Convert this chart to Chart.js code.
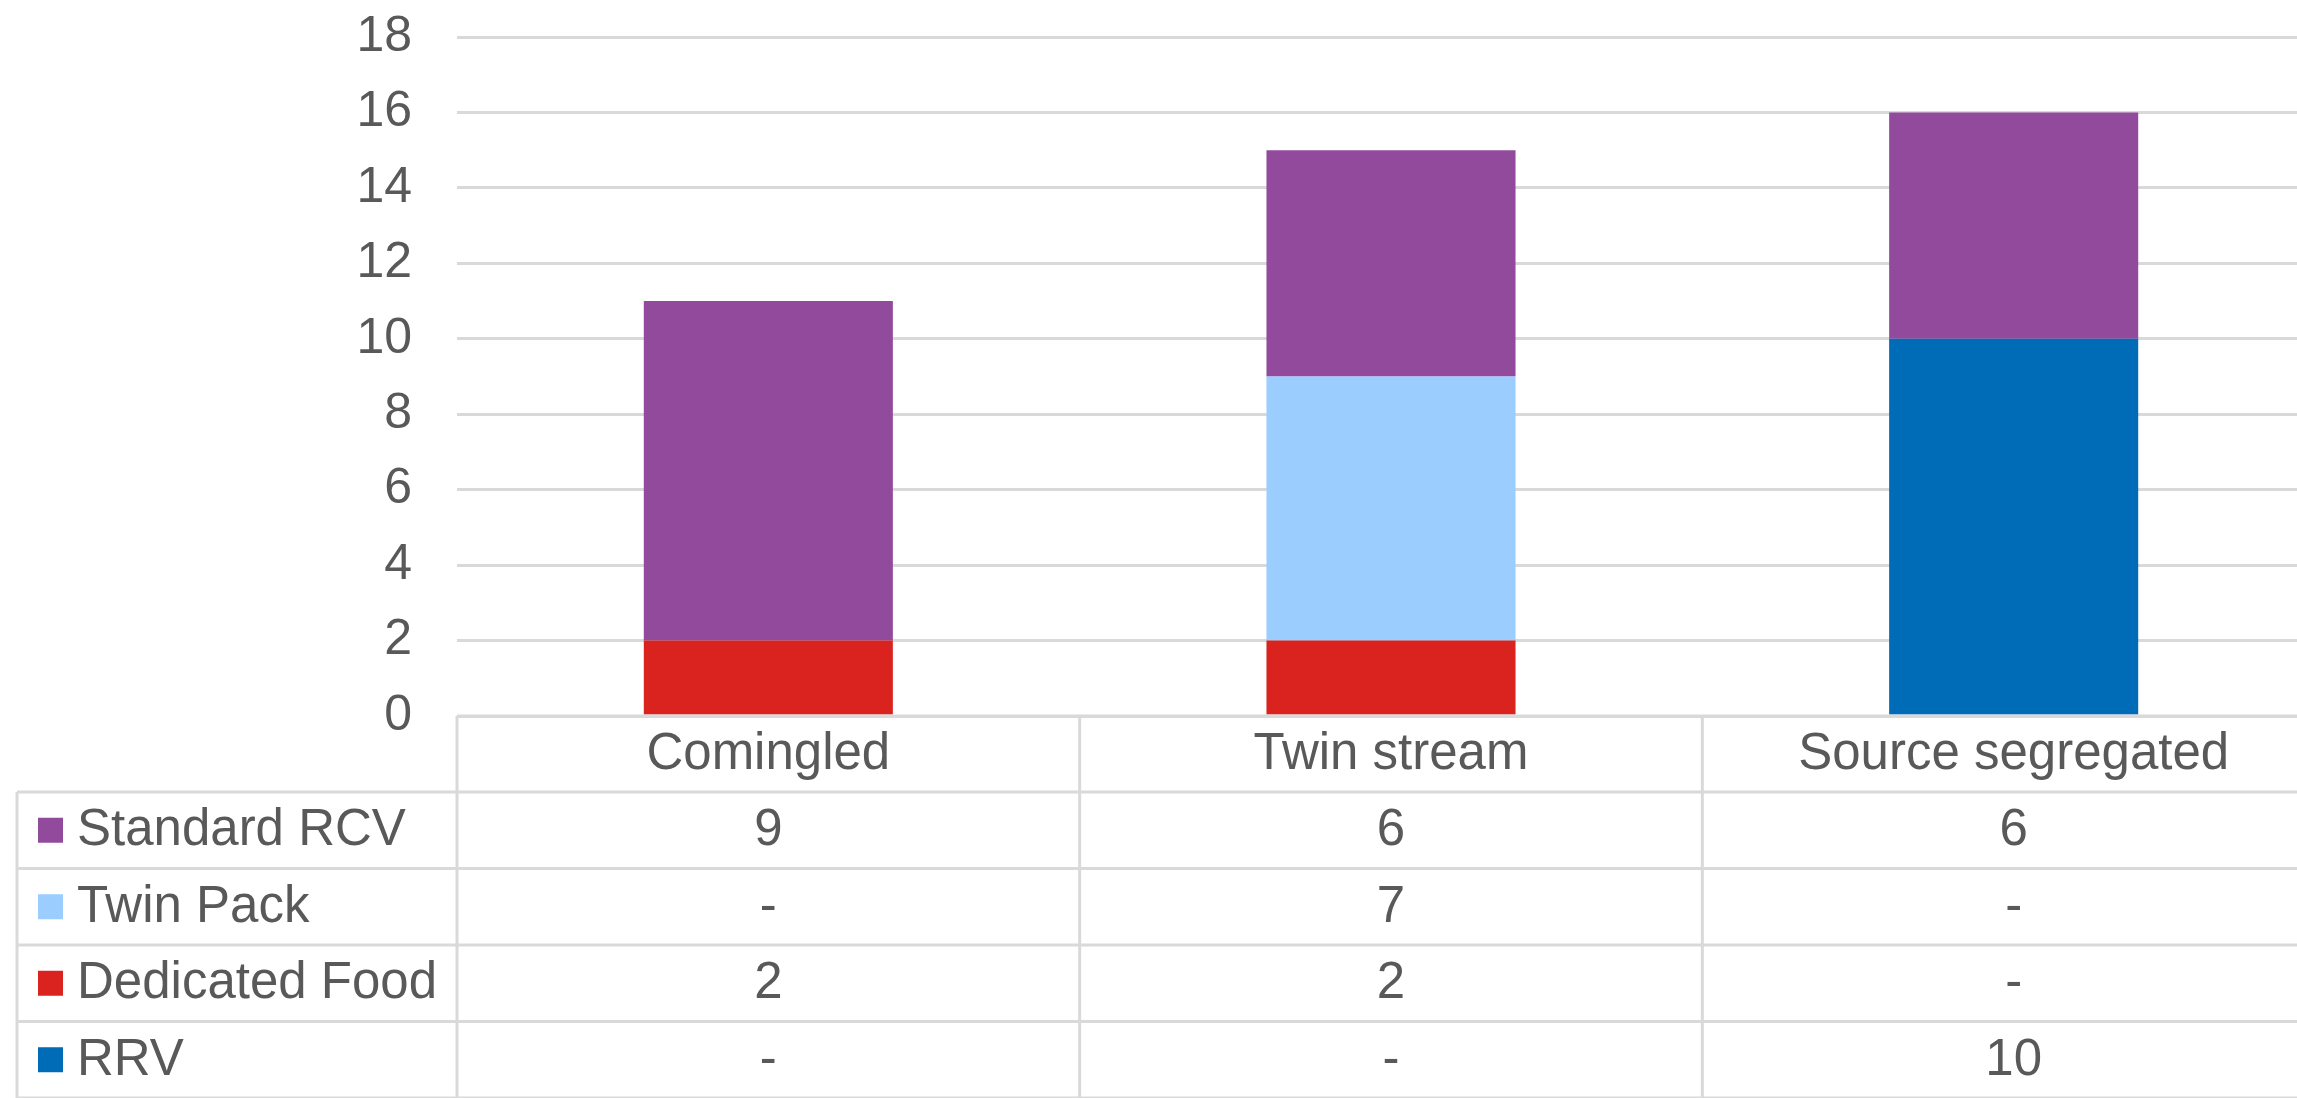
<!DOCTYPE html>
<html>
<head>
<meta charset="utf-8">
<script src="https://cdn.jsdelivr.net/npm/chart.js@4/dist/chart.umd.min.js"></script>
<style>
  html, body { margin: 0; padding: 0; background: #fff; overflow: hidden; }
  #wrap { width: 2325px; height: 1098px; }
</style>
</head>
<body>
<div id="wrap"><canvas id="chart" width="2325" height="1098"></canvas></div>
<script>
const categories = ['Comingled', 'Twin stream', 'Source segregated'];

// stacking order bottom -> top
const rrv = [null, null, 10];
const dedicatedFood = [2, 2, null];
const twinPack = [null, 7, null];
const standardRcv = [9, 6, 6];

const yTicks = [0, 2, 4, 6, 8, 10, 12, 14, 16, 18];

const FONT = '"Liberation Sans", Arial, sans-serif';
const TEXT = '#595959';
const LINE = '#D9D9D9';

// data table under the plot, rows drawn top to bottom
const tablePlugin = {
    id: 'dataTable',
    afterDraw(chart) {
        const c = chart.ctx;
        const x = chart.scales.x;
        const area = chart.chartArea;
        const top = area.bottom;
        const headerH = 76;
        const rowH = 76.5;
        const colW = x.getPixelForValue(1) - x.getPixelForValue(0);
        const tableLeft = 17;
        const rows = chart.data.datasets.slice().reverse();

        c.save();
        c.strokeStyle = LINE;
        c.lineWidth = 3;

        // horizontal lines
        c.beginPath();
        c.moveTo(area.left, top);
        c.lineTo(area.right, top);
        for (let i = 0; i <= rows.length; i++) {
            const y = top + headerH + i * rowH;
            c.moveTo(tableLeft, y);
            c.lineTo(area.right, y);
        }
        // vertical lines
        c.moveTo(tableLeft, top + headerH);
        c.lineTo(tableLeft, chart.height);
        for (let i = 0; i <= categories.length; i++) {
            const vx = x.getPixelForValue(0) - colW / 2 + i * colW;
            c.moveTo(vx, top);
            c.lineTo(vx, chart.height);
        }
        c.stroke();

        c.fillStyle = TEXT;
        c.font = '51px ' + FONT;
        c.textBaseline = 'middle';
        c.textAlign = 'center';

        // header
        categories.forEach((cat, i) => {
            c.fillText(cat, x.getPixelForValue(i), top + headerH / 2 + 1);
        });

        // rows
        rows.forEach((ds, r) => {
            const cy = top + headerH + r * rowH + rowH / 2;
            c.fillStyle = ds.backgroundColor;
            c.fillRect(38, cy - 12.5, 25, 25);
            c.fillStyle = TEXT;
            c.textAlign = 'left';
            c.fillText(ds.label, 77, cy + 1);
            c.textAlign = 'center';
            ds.data.forEach((v, i) => {
                c.fillText(v == null ? '-' : String(v), x.getPixelForValue(i), cy + 1);
            });
        });
        c.restore();
    }
};

const ctx = document.getElementById('chart').getContext('2d');

new Chart(ctx, {
    type: 'bar',
    data: {
        labels: categories,
        datasets: [
            { label: 'RRV', data: rrv, backgroundColor: '#006BB6' },
            { label: 'Dedicated Food', data: dedicatedFood, backgroundColor: '#DA231E' },
            { label: 'Twin Pack', data: twinPack, backgroundColor: '#9BCDFF' },
            { label: 'Standard RCV', data: standardRcv, backgroundColor: '#924A9C' }
        ]
    },
    options: {
        responsive: false,
        devicePixelRatio: 1,
        animation: false,
        datasets: {
            bar: { categoryPercentage: 1, barPercentage: 0.4, borderWidth: 0 }
        },
        layout: { padding: { top: 37, left: 0, right: 0, bottom: 0 } },
        plugins: {
            legend: { display: false },
            tooltip: { enabled: false }
        },
        scales: {
            x: {
                stacked: true,
                grid: { display: false },
                border: { display: false },
                ticks: { display: false },
                afterFit(scale) { scale.height = 1098 - 716; }
            },
            y: {
                stacked: true,
                min: 0,
                max: 18,
                afterBuildTicks(scale) { scale.ticks = yTicks.map(v => ({ value: v })); },
                grid: { color: LINE, lineWidth: 3, drawTicks: false },
                border: { display: false },
                ticks: {
                    color: TEXT,
                    padding: 45,
                    font: { family: FONT, size: 50 }
                },
                afterFit(scale) {
                    scale.width = 457;
                    scale.paddingTop = 0;
                    scale.paddingBottom = 0;
                }
            }
        }
    },
    plugins: [tablePlugin]
});
</script>
</body>
</html>
